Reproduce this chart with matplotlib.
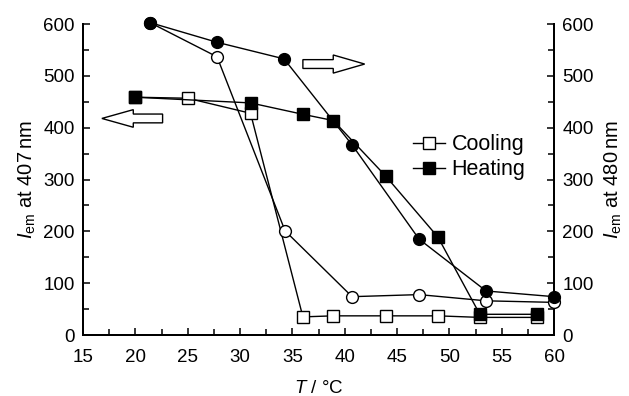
import matplotlib
matplotlib.use("Agg")
import matplotlib.pyplot as plt
from matplotlib.ticker import MultipleLocator
from matplotlib.patches import FancyArrow

plt.rcParams['font.family'] = ['Liberation Sans', 'DejaVu Sans']
plt.rcParams['mathtext.fontset'] = 'custom'
plt.rcParams['mathtext.rm'] = 'Liberation Sans'
plt.rcParams['mathtext.it'] = 'Liberation Sans:italic'

# 407 nm emission (left axis), squares
t_cool_sq = [20, 25, 31, 36, 38.9, 43.9, 48.9, 52.9, 58.4]
i_cool_sq = [459, 457, 428, 35, 37, 37, 37, 34, 34]
t_heat_sq = [20, 31, 36, 38.9, 43.9, 48.9, 52.9, 58.4]
i_heat_sq = [459, 448, 426, 414, 307, 189, 40, 40]

# 480 nm emission (right axis), circles
t_cool_ci = [21.4, 27.8, 34.3, 40.7, 47.1, 53.5, 60]
i_cool_ci = [603, 537, 201, 74, 78, 66, 63]
t_heat_ci = [21.4, 27.8, 34.2, 40.7, 47.1, 53.5, 60]
i_heat_ci = [603, 565, 533, 367, 185, 85, 74]

fs = 13.5
fig = plt.figure(figsize=(6.29, 3.96), dpi=100)
ax = fig.add_axes([0.132, 0.154, 0.749, 0.785])
ax2 = ax.twinx()

lw = 1.0
ms = 8.5
l1, = ax.plot(t_cool_sq, i_cool_sq, '-s', color='black', mfc='white', mec='black',
              lw=lw, ms=ms, mew=1.0, clip_on=False, zorder=3, label='Cooling')
l2, = ax.plot(t_heat_sq, i_heat_sq, '-s', color='black', mfc='black',
              lw=lw, ms=ms, clip_on=False, zorder=4, label='Heating')
ax2.plot(t_cool_ci, i_cool_ci, '-o', color='black', mfc='white', mec='black',
         lw=lw, ms=ms, mew=1.0, clip_on=False, zorder=3)
ax2.plot(t_heat_ci, i_heat_ci, '-o', color='black', mfc='black',
         lw=lw, ms=ms, clip_on=False, zorder=4)

for a in (ax, ax2):
    a.set_xlim(15, 60)
    a.set_ylim(0, 600)
    a.spines['top'].set_visible(False)
    for s in a.spines.values():
        s.set_linewidth(1.4)
    a.yaxis.set_major_locator(MultipleLocator(100))
    a.yaxis.set_minor_locator(MultipleLocator(50))
    a.tick_params(which='both', direction='in', labelsize=fs, width=1.1)
    a.tick_params(which='major', length=5)
    a.tick_params(which='minor', length=4)
ax.xaxis.set_major_locator(MultipleLocator(5))
ax.xaxis.set_minor_locator(MultipleLocator(2.5))
ax.tick_params(axis='x', pad=10)
ax.tick_params(axis='y', pad=6)
ax2.tick_params(axis='y', pad=6)
ax2.set_zorder(ax.get_zorder() + 1)
ax2.patch.set_visible(False)

ax.set_xlabel(r'$\mathit{T}$ / °C', fontsize=fs, labelpad=10)
ax.set_ylabel(r'$\mathit{I}_{\mathrm{em}}$ at 407$\,$nm', fontsize=14.5, labelpad=4)
ax2.set_ylabel(r'$\mathit{I}_{\mathrm{em}}$ at 480$\,$nm', fontsize=14.5, labelpad=6)

# hollow arrows pointing to the axis each series belongs to
ax.add_patch(FancyArrow(22.6, 418, -5.8, 0, width=17, head_width=34,
                        head_length=3.0, length_includes_head=True,
                        fc='white', ec='black', lw=1.0, zorder=5))
ax.add_patch(FancyArrow(36.0, 523, 5.9, 0, width=17, head_width=35,
                        head_length=3.0, length_includes_head=True,
                        fc='white', ec='black', lw=1.0, zorder=5))

ax2.legend([l1, l2], ['Cooling', 'Heating'], loc='center left',
           bbox_to_anchor=(0.668, 0.572), frameon=False, fontsize=15.5,
           handlelength=1.5, handletextpad=0.3, labelspacing=0.2,
           borderpad=0.2)

fig.savefig('out.png', dpi=100)
